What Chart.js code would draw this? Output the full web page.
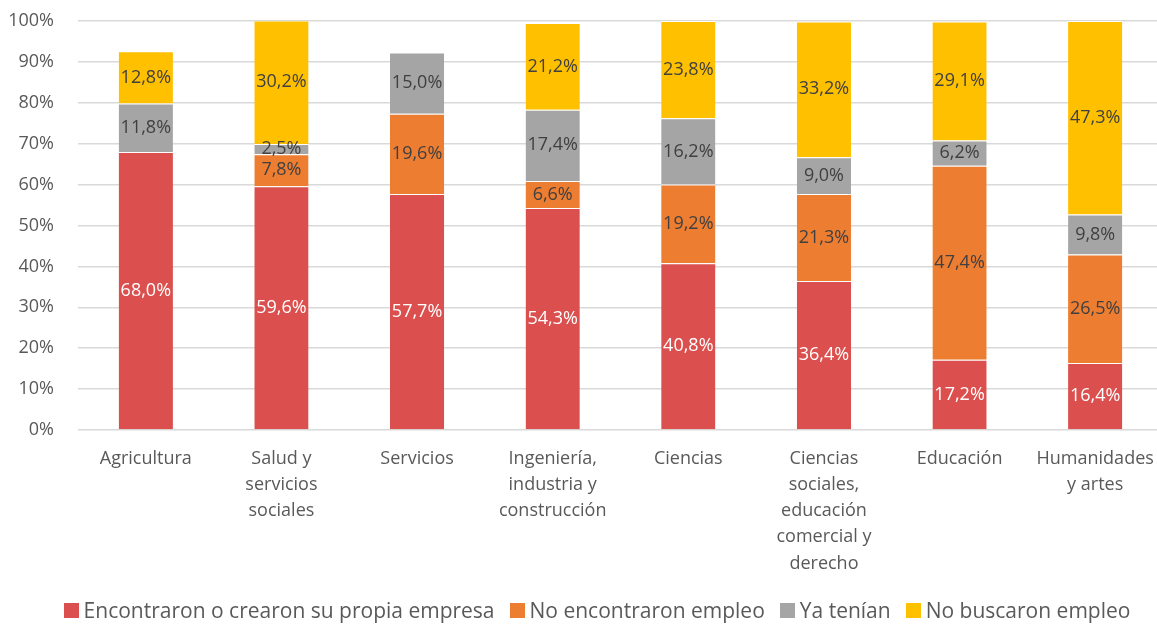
<!DOCTYPE html>
<html><head><meta charset="utf-8">
<script src="https://cdn.jsdelivr.net/npm/chart.js@4/dist/chart.umd.min.js"></script>
<style>
html,body{margin:0;padding:0;background:#fff;overflow:hidden;width:1157px;height:624px;position:relative}
#wrap{position:absolute;left:0;top:0;width:1163px;height:624px}
#legend{position:absolute;left:0;width:1194px;top:596px;display:flex;justify-content:center;align-items:center;font-family:'Open Sans',sans-serif;font-size:21px;color:#595959;white-space:nowrap}
#legend .it{display:flex;align-items:center;margin:0 7.5px}
#legend .bx{width:15px;height:15px;margin-right:5px}
</style>
</head><body><div id="wrap"><canvas id="c"></canvas></div><div id="legend"></div>
<script>
const categories = [["Agricultura"],["Salud y","servicios","sociales"],["Servicios"],["Ingeniería,","industria y","construcción"],["Ciencias"],["Ciencias","sociales,","educación","comercial y","derecho"],["Educación"],["Humanidades","y artes"]];
const seriesNames = ["Encontraron o crearon su propia empresa","No encontraron empleo","Ya tenían","No buscaron empleo"];
const encontraron = [68.0,59.6,57.7,54.3,40.8,36.4,17.2,16.4];
const noEncontraron = [null,7.8,19.6,6.6,19.2,21.3,47.4,26.5];
const yaTenian = [11.8,2.5,15.0,17.4,16.2,9.0,6.2,9.8];
const noBuscaron = [12.8,30.2,null,21.2,23.8,33.2,29.1,47.3];
const yTicks = [0,10,20,30,40,50,60,70,80,90,100];

const colors = ["#DB504E","#ED7D31","#A5A5A5","#FFC000"];
const labelColors = ["#FFFFFF","#404040","#404040","#404040"];
const FONT = "'Open Sans', sans-serif";

const labelPlugin = {
  id:'segLabels',
  afterDatasetsDraw(chart){
    const ctx = chart.ctx;
    ctx.save();
    ctx.font = "18px " + FONT;
    ctx.textAlign = 'center';
    ctx.textBaseline = 'middle';
    chart.data.datasets.forEach((ds,i)=>{
      const meta = chart.getDatasetMeta(i);
      meta.data.forEach((bar,j)=>{
        const v = ds.data[j];
        if(v==null) return;
        const y = (bar.y + bar.base)/2;
        ctx.fillStyle = labelColors[i];
        ctx.fillText(v.toFixed(1).replace('.',',')+'%', bar.x, y);
      });
    });
    ctx.restore();
  }
};

const chart = new Chart(document.getElementById('c'),{
  type:'bar',
  data:{
    labels:categories,
    datasets:[encontraron,noEncontraron,yaTenian,noBuscaron].map((d,i)=>({
      label:seriesNames[i], data:d, backgroundColor:colors[i],
      borderColor:'#FFFFFF', borderWidth:{top:1,bottom:0,left:0,right:0},
      barPercentage:1, categoryPercentage:0.4
    }))
  },
  options:{
    responsive:true, maintainAspectRatio:false, animation:false,
    layout:{padding:{top:21,bottom:0,left:0,right:0}},
    plugins:{tooltip:{enabled:false},legend:{display:false}},
    scales:{
      x:{stacked:true,
        grid:{display:false,drawTicks:false},
        border:{display:false},
        ticks:{font:{family:FONT,size:18,lineHeight:1.45},color:'#595959',padding:16,maxRotation:0,autoSkip:false},
        afterFit(s){s.height=194;s.paddingLeft=0;s.paddingRight=0;}
      },
      y:{stacked:true,min:0,max:100,
        afterBuildTicks(s){s.ticks = yTicks.map(v=>({value:v}));},
        grid:{color:'#D9D9D9',lineWidth:1.5,drawTicks:false},
        border:{display:false},
        ticks:{font:{family:FONT,size:18},color:'#595959',padding:24,callback:v=>v+'%'},
        afterFit(s){s.width=78;s.paddingTop=0;s.paddingBottom=0;}
      }
    }
  },
  plugins:[labelPlugin]
});

const leg = document.getElementById('legend');
chart.data.datasets.forEach(ds=>{
  const it=document.createElement('div');it.className='it';
  const bx=document.createElement('span');bx.className='bx';bx.style.background=ds.backgroundColor;
  const tx=document.createElement('span');tx.textContent=ds.label;
  it.appendChild(bx);it.appendChild(tx);leg.appendChild(it);
});
</script></body></html>
